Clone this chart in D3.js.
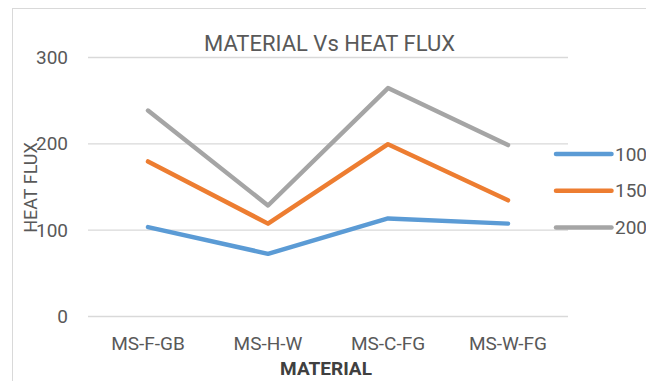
<!DOCTYPE html>
<html><head><meta charset="utf-8">
<script src="https://cdn.jsdelivr.net/npm/d3@7"></script>
<style>
html,body{margin:0;padding:0;background:#fff;overflow:hidden}
text{font-family:Roboto,"Liberation Sans",sans-serif;fill:#595959}
</style></head>
<body><svg id="c" width="646" height="381"></svg>
<script>
const categories = ["MS-F-GB","MS-H-W","MS-C-FG","MS-W-FG"];
const seriesNames = ["100","150","200"];
const s100 = [103, 72, 113, 107];
const s150 = [179, 107, 199, 134];
const s200 = [238, 128, 264, 198];
const yTicks = [0, 100, 200, 300];
const colors = ["#5B9BD5","#ED7D31","#A5A5A5"];
const seriesValues = [s100, s150, s200];

const svg = d3.select("#c");
svg.append("rect").attr("x",12.5).attr("y",8.5).attr("width",800).attr("height",500)
  .attr("fill","#fff").attr("stroke","#D9D9D9").attr("stroke-width",1);

const x = d3.scaleBand().domain(categories).range([88,568]);
const y = d3.scaleLinear().domain([0,300]).range([316,57]);

// gridlines
const yAxis = d3.axisLeft(y).tickValues(yTicks).tickSize(-480).tickPadding(20).tickFormat(d3.format("d"));
const gy = svg.append("g").attr("transform","translate(88,0)").call(yAxis);
gy.select(".domain").remove();
gy.selectAll(".tick line").attr("stroke","#D9D9D9").attr("stroke-width",1.3);
gy.selectAll(".tick text").attr("font-size",19).attr("fill","#595959").attr("x",-20).attr("dy","0.35em")
  .style("font-family","Roboto");

const xAxis = d3.axisBottom(x).tickSize(0).tickPadding(0);
const gx = svg.append("g").attr("transform","translate(0,316)").call(xAxis);
gx.select(".domain").remove();
gx.selectAll(".tick text").attr("font-size",19).attr("fill","#595959").attr("y",34).attr("dy",0)
  .style("font-family","Roboto");

const line = d3.line().x((d,i)=>x(categories[i])+x.bandwidth()/2).y(d=>y(d));
seriesValues.forEach((vals,k)=>{
  svg.append("path").datum(vals).attr("d",line).attr("fill","none")
    .attr("stroke",colors[k]).attr("stroke-width",4.5)
    .attr("stroke-linecap","round").attr("stroke-linejoin","round");
});

// title
svg.append("text").attr("x",329.5).attr("y",51).attr("text-anchor","middle")
  .attr("font-size",22).text("MATERIAL Vs HEAT FLUX");
// axis titles
svg.append("text").attr("x",326).attr("y",375).attr("text-anchor","middle")
  .attr("font-size",19).attr("font-weight","bold").style("fill","#404040").text("MATERIAL");
svg.append("text").attr("transform","translate(37,187.5) rotate(-90)").attr("text-anchor","middle")
  .attr("font-size",18).text("HEAT FLUX");

// legend
const ly = d3.scalePoint().domain(seriesNames).range([154,227.5]);
seriesNames.forEach((n,k)=>{
  svg.append("line").attr("x1",556).attr("x2",611.5).attr("y1",ly(n)).attr("y2",ly(n))
    .attr("stroke",colors[k]).attr("stroke-width",4.5).attr("stroke-linecap","round");
  svg.append("text").attr("x",615).attr("y",ly(n)).attr("dy","0.35em").attr("font-size",19).text(n);
});
</script></body></html>
